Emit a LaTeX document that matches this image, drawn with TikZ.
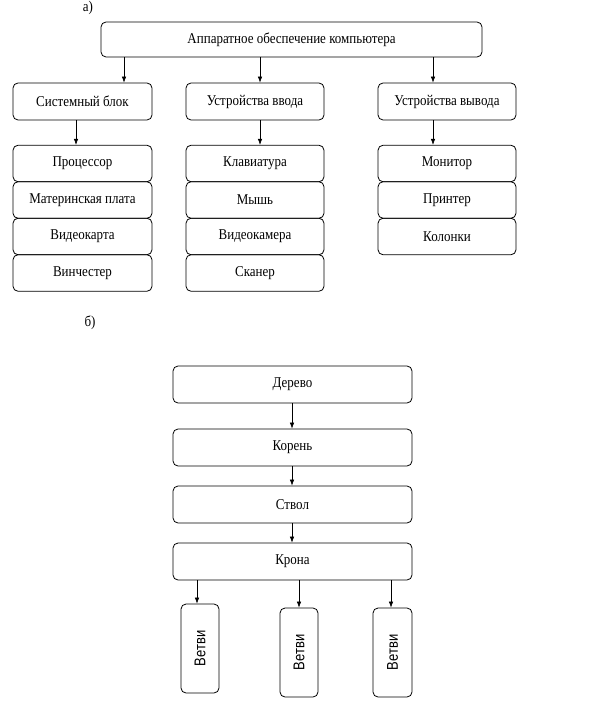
\documentclass[tikz,border=0pt]{standalone}
\usepackage{fontspec}
\setmainfont{Liberation Serif}
\newfontfamily\sansf{Liberation Sans}
\usetikzlibrary{arrows.meta}
\newcommand{\tall}[1]{\scalebox{1}[1.15]{#1}}
\newcommand{\vtxt}[1]{\rotatebox{90}{\scalebox{1}[1.2]{#1}}}
\begin{document}
\begin{tikzpicture}[x=1pt,y=-1pt,
 box/.style={draw, rounded corners=5pt, line width=0.8pt, inner sep=0pt, font=\fontsize{13}{15}\selectfont},
 vbox/.style={box, font=\sansf\fontsize{13}{15}\selectfont},
 lbl/.style={inner sep=0pt, font=\fontsize{13}{15}\selectfont},
 arr/.style={-{Latex[length=6pt,width=4.5pt]}, line width=0.6pt}]
\useasboundingbox (0,0) rectangle (600,708);
\node[lbl] (la) at (88,8) {\tall{а)}};
\node[box, minimum width=381, minimum height=35] (top) at (291.5,39.5) {\tall{Аппаратное обеспечение компьютера}};
\node[box, minimum width=139, minimum height=37] (sys) at (82.5,101.5) {\tall{Системный блок}};
\node[box, minimum width=138, minimum height=37] (inp) at (255,101.5) {\tall{Устройства ввода}};
\node[box, minimum width=138, minimum height=37] (out) at (447,101.5) {\tall{Устройства вывода}};
\draw[arr] (top.south -| 124,0) -- (sys.north -| 124,0);
\draw[arr] (top.south -| 260,0) -- (inp.north -| 260,0);
\draw[arr] (top.south -| 433,0) -- (out.north -| 433,0);
% column 1
\node[box, minimum width=139, minimum height=36.5] (a1) at (82.5,163.5) {\tall{Процессор}};
\node[box, minimum width=139, minimum height=36.5] (a2) at (82.5,200) {\tall{Материнская плата}};
\node[box, minimum width=139, minimum height=36.5] (a3) at (82.5,236.5) {\tall{Видеокарта}};
\node[box, minimum width=139, minimum height=36.5] (a4) at (82.5,273) {\tall{Винчестер}};
% column 2
\node[box, minimum width=138, minimum height=36.5] (b1) at (255,163.5) {\tall{Клавиатура}};
\node[box, minimum width=138, minimum height=36.5] (b2) at (255,200) {\tall{Мышь}};
\node[box, minimum width=138, minimum height=36.5] (b3) at (255,236.5) {\tall{Видеокамера}};
\node[box, minimum width=138, minimum height=36.5] (b4) at (255,273) {\tall{Сканер}};
% column 3
\node[box, minimum width=138, minimum height=36.5] (c1) at (447,163.5) {\tall{Монитор}};
\node[box, minimum width=138, minimum height=36.5] (c2) at (447,200) {\tall{Принтер}};
\node[box, minimum width=138, minimum height=36.5] (c3) at (447,236.5) {\tall{Колонки}};
\draw[arr] (sys.south -| 76,0) -- (a1.north -| 76,0);
\draw[arr] (inp.south -| 260,0) -- (b1.north -| 260,0);
\draw[arr] (out.south -| 433,0) -- (c1.north -| 433,0);
% part b
\node[lbl] (lb) at (90,323) {\tall{б)}};
\node[box, minimum width=239, minimum height=37] (d1) at (292.5,384.5) {\tall{Дерево}};
\node[box, minimum width=239, minimum height=37] (d2) at (292.5,447.5) {\tall{Корень}};
\node[box, minimum width=239, minimum height=37] (d3) at (292.5,504.5) {\tall{Ствол}};
\node[box, minimum width=239, minimum height=37] (d4) at (292.5,561.5) {\tall{Крона}};
\draw[arr] (d1.south -| 292,0) -- (d2.north -| 292,0);
\draw[arr] (d2.south -| 292,0) -- (d3.north -| 292,0);
\draw[arr] (d3.south -| 292,0) -- (d4.north -| 292,0);
\node[vbox, minimum width=38, minimum height=89] (e1) at (200,648.5) {\vtxt{Ветви}};
\node[vbox, minimum width=38, minimum height=89] (e2) at (299,652.5) {\vtxt{Ветви}};
\node[vbox, minimum width=39, minimum height=89] (e3) at (392.5,652.5) {\vtxt{Ветви}};
\draw[arr] (d4.south -| 197,0) -- (e1.north -| 197,0);
\draw[arr] (d4.south -| 299,0) -- (e2.north -| 299,0);
\draw[arr] (d4.south -| 391,0) -- (e3.north -| 391,0);
\end{tikzpicture}
\end{document}
